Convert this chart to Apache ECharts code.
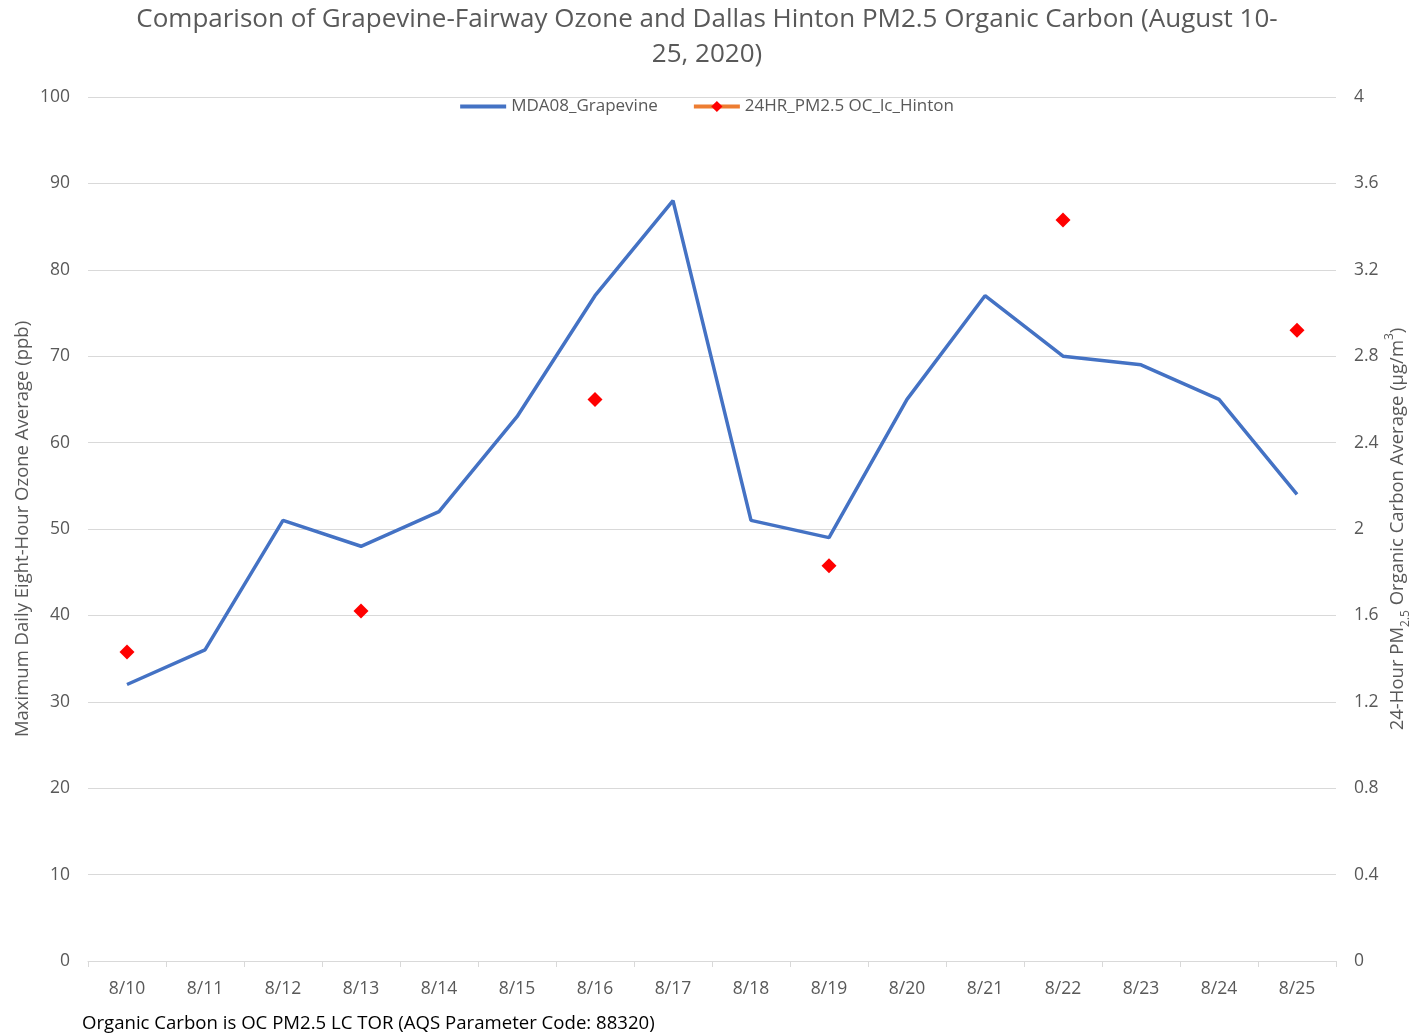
<!DOCTYPE html>
<html><head><meta charset="utf-8">
<script src="https://cdn.jsdelivr.net/npm/echarts@6/dist/echarts.min.js"></script>
<style>html,body{margin:0;padding:0;background:#fff}#c{width:1414px;height:1035px}</style>
</head><body><div id="c"></div>
<script>
const categories = ['8/10','8/11','8/12','8/13','8/14','8/15','8/16','8/17','8/18','8/19','8/20','8/21','8/22','8/23','8/24','8/25'];
const ozone = [32, 36, 51, 48, 52, 63, 77, 88, 51, 49, 65, 77, 70, 69, 65, 54];
const organicCarbon = [1.43, null, null, 1.62, null, null, 2.6, null, null, 1.83, null, null, 3.43, null, null, 2.92];
const FONT = '"Open Sans", sans-serif';
const GREY = '#595959';
const chart = echarts.init(document.getElementById('c'));
chart.setOption({
  backgroundColor: '#fff',
  animation: false,
  title: {
    text: 'Comparison of Grapevine-Fairway Ozone and Dallas Hinton PM2.5 Organic Carbon (August 10-\n25, 2020)',
    left: 'center', top: -3,
    textStyle: {fontFamily: FONT, fontSize: 26, fontWeight: 'normal', color: GREY, lineHeight: 35}
  },
  legend: {
    top: 93, left: 'center', itemWidth: 46, itemHeight: 14, itemGap: 34,
    textStyle: {fontFamily: FONT, fontSize: 17, color: GREY},
    data: [
      {name: 'MDA08_Grapevine', icon: 'path://M0,0 L46,0 L46,4 L0,4 Z', itemStyle: {color: '#4472C4'}},
      {name: '24HR_PM2.5 OC_lc_Hinton', lineStyle: {width: 4, color: '#ED7D31'}}
    ]
  },
  grid: {left: 88, right: 78, top: 97, bottom: 74, containLabel: false, outerBoundsMode: 'none'},
  xAxis: {
    type: 'category', data: categories, boundaryGap: true,
    axisLine: {lineStyle: {color: '#d9d9d9', width: 1}},
    axisTick: {show: true, length: 6, lineStyle: {color: '#d9d9d9'}},
    axisLabel: {fontFamily: FONT, fontSize: 17.5, color: GREY, margin: 19}
  },
  yAxis: [{
    type: 'value', min: 0, max: 100, interval: 10,
    name: 'Maximum Daily Eight-Hour Ozone Average (ppb)',
    nameLocation: 'middle', nameGap: 56, nameRotate: 90, nameMoveOverlap: false,
    nameTextStyle: {fontFamily: FONT, fontSize: 18.5, color: GREY},
    axisLine: {show: false}, axisTick: {show: false},
    axisLabel: {fontFamily: FONT, fontSize: 17.5, color: GREY, margin: 18},
    splitLine: {lineStyle: {color: '#d9d9d9', width: 1}}
  }, {
    type: 'value', min: 0, max: 4, interval: 0.4,
    name: '{n|24-Hour PM}{s|2.5}{n| Organic Carbon Average (µg/m}{p|3}{n|)}',
    nameLocation: 'middle', nameGap: 48, nameRotate: 90, nameMoveOverlap: false,
    nameTextStyle: {fontFamily: FONT, fontSize: 18.5, color: GREY,
      rich: {
        n: {fontFamily: FONT, fontSize: 18.5, color: GREY, lineHeight: 28, verticalAlign: 'middle'},
        s: {fontFamily: FONT, fontSize: 12, color: GREY, lineHeight: 28, verticalAlign: 'bottom'},
        p: {fontFamily: FONT, fontSize: 12, color: GREY, lineHeight: 28, verticalAlign: 'top'}
      }},
    axisLine: {show: false}, axisTick: {show: false},
    axisLabel: {fontFamily: FONT, fontSize: 17.5, color: GREY, margin: 18,
      formatter: v => String(Math.round(v * 10) / 10)},
    splitLine: {show: false}
  }],
  series: [{
    name: 'MDA08_Grapevine', type: 'line', yAxisIndex: 0, data: ozone,
    symbol: 'none', lineStyle: {color: '#4472C4', width: 3.5}, itemStyle: {color: '#4472C4'}
  }, {
    name: '24HR_PM2.5 OC_lc_Hinton', type: 'line', yAxisIndex: 1, data: organicCarbon,
    connectNulls: false, symbol: 'diamond', symbolSize: 15, showSymbol: true,
    lineStyle: {color: '#ED7D31', width: 3.5}, itemStyle: {color: '#FF0000'}
  }],
  graphic: [{
    type: 'text', left: 82, top: 1014,
    style: {text: 'Organic Carbon is OC PM2.5 LC TOR (AQS Parameter Code: 88320)', fontFamily: FONT, fontSize: 18.6, fill: '#000'}
  }]
});
</script></body></html>
